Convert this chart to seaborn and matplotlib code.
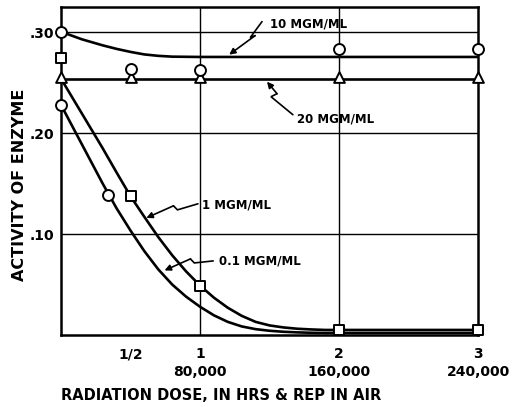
import matplotlib
matplotlib.use("Agg")
import matplotlib.pyplot as plt
import seaborn as sns

# ---------------- data ----------------
x_ticks = [0.5, 1, 2, 3]
x_tick_labels = ["1/2", "1\n80,000", "2\n160,000", "3\n240,000"]
y_ticks = [0.10, 0.20, 0.30]
y_tick_labels = [".10", ".20", ".30"]

# fitted curves
c10_x = [0, 0.05, 0.10, 0.15, 0.20, 0.30, 0.40, 0.50, 0.60, 0.70, 0.80, 1.0, 2.0, 3.0]
c10_y = [0.300, 0.298, 0.2955, 0.293, 0.291, 0.287, 0.2835, 0.2805, 0.278, 0.2766,
         0.2758, 0.2755, 0.2755, 0.2755]
c20_x = [0, 1.0, 2.0, 3.0]
c20_y = [0.254, 0.254, 0.254, 0.254]
c1_x = [0, 0.1, 0.2, 0.3, 0.4, 0.5, 0.6, 0.7, 0.8, 0.9, 1.0, 1.1, 1.2, 1.3, 1.4,
        1.5, 1.6, 1.7, 1.8, 1.9, 2.0, 3.0]
c1_y = [0.254, 0.231, 0.208, 0.185, 0.161, 0.1375, 0.117, 0.097, 0.079, 0.063,
        0.049, 0.037, 0.027, 0.019, 0.013, 0.0095, 0.0075, 0.0062, 0.0055, 0.005,
        0.005, 0.005]
c01_x = [0, 0.1, 0.2, 0.3, 0.4, 0.5, 0.6, 0.7, 0.8, 0.9, 1.0, 1.1, 1.2, 1.3, 1.4,
         1.5, 1.6, 1.7, 1.8, 1.9, 3.0]
c01_y = [0.228, 0.202, 0.176, 0.150, 0.1255, 0.1035, 0.083, 0.065, 0.050, 0.038,
         0.028, 0.0195, 0.013, 0.0085, 0.0058, 0.0042, 0.0032, 0.0026, 0.0022,
         0.002, 0.002]

# measured points
p10_x = [0, 0.5, 1, 2, 3]
p10_y = [0.300, 0.264, 0.263, 0.2835, 0.2835]
p20_x = [0, 0.5, 1, 2, 3]
p20_y = [0.2555, 0.2555, 0.2555, 0.2555, 0.2555]
p1_x = [0, 0.5, 1, 2, 3]
p1_y = [0.274, 0.1375, 0.0485, 0.005, 0.005]
p01_x = [0, 0.34]
p01_y = [0.228, 0.139]

labels = ["10 MGM/ML", "20 MGM/ML", "1 MGM/ML", "0.1 MGM/ML"]

# ---------------- figure ----------------
sns.set_style("white")
ink = "black"
plt.rcParams.update({
    "font.family": ["DejaVu Sans"],
    "text.color": ink, "axes.labelcolor": ink,
    "xtick.color": ink, "ytick.color": ink,
})
fig = plt.figure(figsize=(5.12, 4.07), dpi=100)
ax = fig.add_axes([61 / 512, 1 - 335 / 407, 417 / 512, 328 / 407])

lw = 1.9
for cx, cy in [(c10_x, c10_y), (c20_x, c20_y), (c1_x, c1_y), (c01_x, c01_y)]:
    sns.lineplot(x=cx, y=cy, ax=ax, color=ink, lw=lw, sort=False,
                 estimator=None, zorder=3)

mk = dict(facecolor="white", edgecolor=ink, linewidth=1.4, zorder=5,
          clip_on=False, legend=False)
sns.scatterplot(x=p20_x, y=p20_y, ax=ax, marker="^", s=60, **mk)
sns.scatterplot(x=p10_x, y=p10_y, ax=ax, marker="o", s=62, **mk)
sns.scatterplot(x=p1_x, y=p1_y, ax=ax, marker="s", s=62, **mk)
sns.scatterplot(x=p01_x, y=p01_y, ax=ax, marker="o", s=62, **mk)

ax.set_xlim(0, 3)
ax.set_ylim(0, 0.325)

# grid
for gx in [1, 2]:
    ax.axvline(gx, color=ink, lw=1.0, zorder=1)
for gy in y_ticks:
    ax.axhline(gy, color=ink, lw=1.0, zorder=1)

for sp in ax.spines.values():
    sp.set_visible(True)
    sp.set_color(ink)
    sp.set_linewidth(1.8)

ax.set_xticks(x_ticks)
ax.set_xticklabels(x_tick_labels, fontsize=10, fontweight="bold",
                   linespacing=1.3)
ax.set_yticks(y_ticks)
ax.set_yticklabels(y_tick_labels, fontsize=10, fontweight="bold")
ax.tick_params(axis="x", length=0, pad=9)
ax.tick_params(axis="y", length=0, pad=5)

ax.set_xlabel("RADIATION DOSE, IN HRS & REP IN AIR", fontsize=10.5,
              fontweight="bold")
ax.xaxis.set_label_coords(0.384, -0.163)
ax.set_ylabel("ACTIVITY OF ENZYME", fontsize=11.5, fontweight="bold")
ax.yaxis.set_label_coords(-0.082, 0.457)


# ---------------- annotations with zig-zag leaders ----------------
def leader(text, text_xy, pts):
    ax.text(text_xy[0], text_xy[1], text, fontsize=8.5, fontweight="bold",
            ha="left", va="center", zorder=6)
    xs = [p[0] for p in pts[:-1]]
    ys = [p[1] for p in pts[:-1]]
    ax.plot(xs, ys, color=ink, lw=1.2, zorder=6, solid_joinstyle="miter")
    ax.annotate("", xy=pts[-1], xytext=pts[-2],
                arrowprops=dict(arrowstyle="-|>", color=ink, lw=1.2,
                                mutation_scale=9, shrinkA=0, shrinkB=0),
                zorder=6)


leader(labels[0], (1.504, 0.3085),
       [(1.446, 0.3105), (1.361, 0.2946), (1.396, 0.2966), (1.210, 0.2778)])
leader(labels[1], (1.697, 0.2143),
       [(1.668, 0.2183), (1.511, 0.2361), (1.554, 0.2391), (1.482, 0.2510)])
leader(labels[2], (1.012, 0.1290),
       [(0.985, 0.1300), (0.838, 0.1240), (0.809, 0.1280), (0.614, 0.1160)])
leader(labels[3], (1.138, 0.0734),
       [(1.095, 0.0734), (0.959, 0.0714), (0.931, 0.0754), (0.745, 0.0640)])

fig.savefig("out.png", dpi=100)
